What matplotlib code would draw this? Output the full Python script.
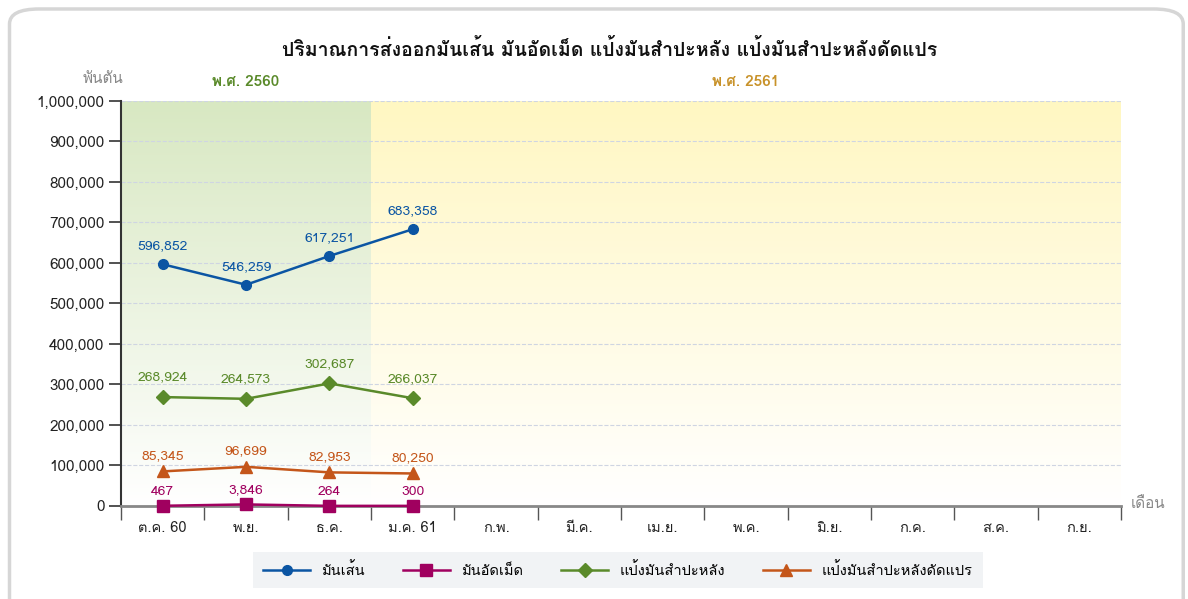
import numpy as np
import matplotlib
matplotlib.use('Agg')
import matplotlib.pyplot as plt
from matplotlib import font_manager
from matplotlib.ft2font import FT2Font
from matplotlib.colors import LinearSegmentedColormap
from matplotlib.patches import FancyBboxPatch

# find any installed font that has Thai glyphs
def find_thai_font():
    names = []
    for f in font_manager.fontManager.ttflist:
        try:
            cm = FT2Font(f.fname).get_charmap()
        except Exception:
            continue
        if 0x0E01 in cm:
            names.append(f.name)
    return names[0] if names else 'DejaVu Sans'

thai = find_thai_font()
plt.rcParams['font.family'] = [thai, 'DejaVu Sans']

# data
months = ['ต.ค. 60', 'พ.ย.', 'ธ.ค.', 'ม.ค. 61', 'ก.พ.', 'มี.ค.', 'เม.ย.', 'พ.ค.',
          'มิ.ย.', 'ก.ค.', 'ส.ค.', 'ก.ย.']
fresh_root = [596852, 546259, 617251, 683358]
chips = [467, 3846, 264, 300]
starch = [268924, 264573, 302687, 266037]
modified = [85345, 96699, 82953, 80250]

series = [
    ('มันเส้น', fresh_root, '#0b55a3', 'o', 7, 13),
    ('มันอัดเม็ด', chips, '#a0005f', 's', 8, 10),
    ('แป้งมันสำปะหลัง', starch, '#5a8a2a', 'D', 7.5, 14),
    ('แป้งมันสำปะหลังดัดแปร', modified, '#c4561a', '^', 8, 11),
]

fig = plt.figure(figsize=(11.88, 5.99), dpi=100)
fig.patches.append(FancyBboxPatch((0.008, -0.05), 0.988, 1.035,
                                  boxstyle='round,pad=0,rounding_size=0.025',
                                  transform=fig.transFigure, facecolor='white',
                                  edgecolor='#d6d6d6', linewidth=2.5, zorder=-1))
ax = fig.add_axes([0.1019, 0.1553, 0.8417, 0.6761])
ax.set_facecolor('none')

# background gradients for the two fiscal years
grad = np.linspace(0, 1, 256).reshape(-1, 1)
green_cm = LinearSegmentedColormap.from_list('g', ['#ffffff', '#d8e8c2'])
yellow_cm = LinearSegmentedColormap.from_list('y', ['#ffffff', '#fff7c2'])
ax.imshow(grad, cmap=green_cm, extent=(-0.5, 2.5, 0, 1000000), origin='lower',
          aspect='auto', zorder=0)
ax.imshow(grad, cmap=yellow_cm, extent=(2.5, 11.5, 0, 1000000), origin='lower',
          aspect='auto', zorder=0)

x = np.arange(len(fresh_root))
for name, vals, color, marker, ms, off in series:
    ax.plot(x, vals, color=color, marker=marker, markersize=ms, linewidth=1.8,
            label=name, zorder=3, clip_on=False)
    for xi, v in zip(x, vals):
        ax.annotate(f'{v:,}', (xi, v), xytext=(0, off), textcoords='offset points',
                    ha='center', va='center', color=color, fontsize=10, zorder=4)

ax.set_xlim(-0.5, 11.5)
ax.set_ylim(0, 1000000)
ax.set_yticks(np.arange(0, 1000001, 100000))
ax.set_yticklabels([f'{v:,}' for v in range(0, 1000001, 100000)], fontsize=11)
ax.yaxis.grid(True, linestyle='--', color='#cfd5e2', linewidth=0.8, zorder=1)
ax.set_axisbelow(True)

ax.set_xticks(np.arange(12))
ax.set_xticklabels(months, fontsize=10.5)
ax.set_xticks(np.arange(-0.5, 12), minor=True)
ax.tick_params(axis='x', which='major', length=0, pad=11, colors='#222222')
ax.tick_params(axis='x', which='minor', length=10, color='#555555', width=1)
ax.tick_params(axis='y', length=9, width=1.2, pad=3, color='#333333', labelcolor='#222222')

for s in ['top', 'right']:
    ax.spines[s].set_visible(False)
ax.spines['left'].set_color('#333333')
ax.spines['left'].set_linewidth(1.5)
ax.spines['bottom'].set_color('#888888')
ax.spines['bottom'].set_linewidth(2)

fig.text(0.513, 0.918, 'ปริมาณการส่งออกมันเส้น มันอัดเม็ด แป้งมันสำปะหลัง แป้งมันสำปะหลังดัดแปร',
         ha='center', va='center', fontsize=14, fontweight='bold', color='#111111')
ax.annotate('พ.ศ. 2560', (1.0, 1000000), xytext=(0, 14), textcoords='offset points',
            ha='center', va='center', color='#5a8a2a', fontsize=11, fontweight='bold')
ax.annotate('พ.ศ. 2561', (7.0, 1000000), xytext=(0, 14), textcoords='offset points',
            ha='center', va='center', color='#c8922a', fontsize=11, fontweight='bold')
fig.text(0.087, 0.868, 'พันตัน', ha='center', va='center', color='#888888', fontsize=11)
fig.text(0.966, 0.158, 'เดือน', ha='center', va='center', color='#888888', fontsize=11)

leg = fig.legend(loc='center', bbox_to_anchor=(0.52, 0.048), ncol=4, frameon=True,
                 fontsize=10.5, handlelength=3.2, columnspacing=2.6, borderpad=0.4)
leg.get_frame().set_facecolor('#eef0f3')
leg.get_frame().set_edgecolor('none')
leg.get_frame().set_boxstyle('square')

fig.savefig('out.png', dpi=100)
